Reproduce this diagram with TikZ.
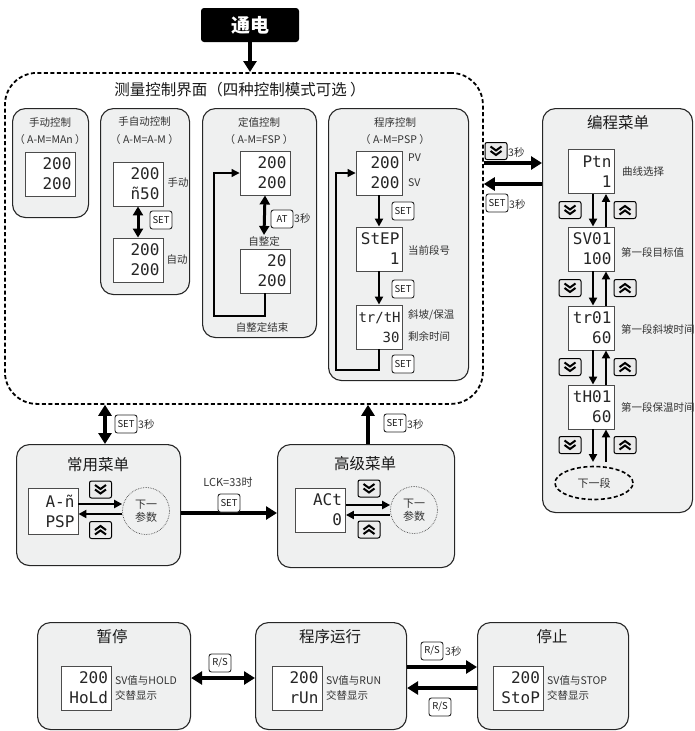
\documentclass[tikz,border=0pt]{standalone}
\usepackage{fontspec}
\setmainfont{Noto Sans CJK SC}
\newfontfamily\segfont{DejaVu Sans Mono}
\usetikzlibrary{arrows.meta,shapes.geometric}
\definecolor{panelgray}{HTML}{EFF0F0}
\definecolor{txt}{HTML}{333333}
\tikzset{
  panel/.style={draw=black!85, fill=panelgray, rounded corners=13pt, line width=1.1pt, inner sep=0pt, anchor=north west},
  sz/.style 2 args={minimum width=#1, minimum height=#2},
  disp/.style={draw=black!70, fill=white, line width=0.9pt, text width=43pt, inner xsep=3.5pt, inner ysep=0pt, minimum height=44pt, align=right, text=black!85, font=\segfont\fontsize{16}{20}\selectfont},
  ndisp/.style={disp, text width=41pt, inner xsep=2.5pt},
  btn/.style={draw=black!85, fill=white, rounded corners=2.5pt, line width=0.9pt, font=\fontsize{9.5}{9.5}\selectfont, inner xsep=2pt, inner ysep=0pt, minimum height=18pt, minimum width=22pt, text=black!90},
  cbtn/.style={draw=black, fill=black!8, rounded corners=2pt, line width=1pt, minimum width=22pt, minimum height=17pt, inner sep=0pt},
  chev/.style={line width=2pt, line join=miter},
  bigarr/.style={line width=4pt, -{Triangle[length=11pt,width=13pt]}},
  bigdbl/.style={line width=4pt, {Triangle[length=11pt,width=13pt]}-{Triangle[length=11pt,width=13pt]}},
  midarr/.style={line width=2pt, -{Triangle[length=8pt,width=8pt]}},
  middbl/.style={line width=3pt, {Triangle[length=9pt,width=10pt]}-{Triangle[length=9pt,width=10pt]}},
  loopl/.style={line width=1.2pt, -{Triangle[length=8pt,width=8pt]}},
  lbl/.style={font=\fontsize{10.5}{15.5}\selectfont, text=txt, inner sep=1pt},
  ttl/.style={font=\fontsize{15.5}{18}\selectfont, text=black!90},
  sttl/.style={font=\fontsize{10.5}{12}\selectfont, text=txt},
  dcircle/.style={circle, draw=black!70, densely dotted, line width=0.7pt, minimum size=47pt, inner sep=0pt, align=center, font=\fontsize{11}{13.5}\selectfont, text=txt},
}
\newcommand\chevbtn[4]{%
  \node[cbtn] (#1) at (#2,#3) {};
  \draw[chev] ([shift={(-5.5,{-4.5*#4})}]#1.center) -- ([shift={(0,{-0.5*#4})}]#1.center) -- ([shift={(5.5,{-4.5*#4})}]#1.center);
  \draw[chev] ([shift={(-5.5,0)}]#1.center) -- ([shift={(0,{4*#4})}]#1.center) -- ([shift={(5.5,0)}]#1.center);
}
\begin{document}
\begin{tikzpicture}[x=1pt,y=-1pt]
\useasboundingbox (0,0) rectangle (694,731);

% power on
\node[fill=black, rounded corners=3pt, text=white, font=\bfseries\fontsize{19}{20}\selectfont, minimum width=98pt, minimum height=34pt, inner sep=0pt] (power) at (250,25) {通电};

% measurement area
\node[draw=black, dash pattern=on 4pt off 2.5pt, rounded corners=32pt, line width=1.8pt, minimum width=478pt, minimum height=331pt, anchor=north west, inner sep=0pt] (meas) at (4,72) {};
\draw[bigarr] (power.south) -- (power.south |- meas.north);
\node[ttl] (mtitle) at (240,90) {测量控制界面（四种控制模式可选 ）};

% panel 1
\node[panel, sz={76pt}{109pt}] (p1) at (12,108) {};
\node[sttl] (p1t) at (50,122) {手动控制};
\node[sttl] (p1m) at (50,140) {（ A-M=MAn ）};
\node[disp] (d1) at (50,174) {200\\200};

% panel 2
\node[panel, sz={89pt}{186pt}] (p2) at (100,108) {};
\node[sttl] (p2t) at (144.5,122) {手自动控制};
\node[sttl] (p2m) at (144.5,140) {（ A-M=A-M ）};
\node[disp] (d2a) at (138,184) {200\\ñ50};
\node[lbl] (l2a) at (178,183) {手动};
\node[disp] (d2b) at (138,260) {200\\200};
\node[lbl] (l2b) at (177,260) {自动};
\draw[middbl] (d2a.south) -- (d2b.north);
\node[btn] (s2) at (161,220) {SET};

% panel 3
\node[panel, sz={114pt}{229pt}] (p3) at (202,108) {};
\node[sttl] (p3t) at (259,122) {定值控制};
\node[sttl] (p3m) at (259,140) {（ A-M=FSP ）};
\node[disp] (d3a) at (265,173) {200\\200};
\node[lbl] (zzd) at (264,241) {自整定};
\node[disp] (d3b) at (265,271) {20\\200};
\draw[middbl] (d3a.south) -- (zzd.north);
\node[btn] (at3) at (282,219) {AT};
\node[lbl, anchor=west] (at3s) at (293,218) {3秒};
\coordinate (l3) at (214,316);
\draw[loopl] (d3b.south) |- (l3) |- (d3a.west);
\node[lbl] (zzde) at (262,327) {自整定结束};

% panel 4
\node[panel, sz={140pt}{272pt}] (p4) at (328,108) {};
\node[sttl] (p4t) at (395,122) {程序控制};
\node[sttl] (p4m) at (395,140) {（ A-M=PSP ）};
\node[ndisp] (d4a) at (379,173) {200\\200};
\node[lbl, anchor=west] (pv) at (407,158) {PV};
\node[lbl, anchor=west] (sv) at (407,183) {SV};
\node[ndisp] (d4b) at (379,249) {StEP\\1};
\node[lbl, anchor=west] (l4b) at (407,250) {当前段号};
\node[ndisp, font=\segfont\fontsize{14}{20}\selectfont] (d4c) at (379,327) {tr/tH\\30};
\node[lbl, anchor=west] (l4c) at (407,315) {斜坡/保温};
\node[lbl, anchor=west] (l4d) at (407,336) {剩余时间};
\draw[midarr] (d4a.south) -- (d4b.north);
\draw[midarr] (d4b.south) -- (d4c.north);
\node[btn] (s4a) at (403,211) {SET};
\node[btn] (s4b) at (403,289) {SET};
\node[btn] (s4c) at (403,364) {SET};
\coordinate (l4) at (336,370);
\draw[loopl] (d4c.south) |- (l4) |- (d4a.west);

% programming menu
\node[panel, sz={150pt}{404pt}] (p5) at (542,108) {};
\node[ttl] (p5t) at (618,123) {编程菜单};
\coordinate (r1) at (0,163);
\coordinate (r2) at (0,184);
\draw[bigarr] (meas.east |- r1) -- (p5.west |- r1);
\draw[bigarr] (p5.west |- r2) -- (meas.east |- r2);
\chevbtn{kd0}{496}{151}{1}
\node[lbl, anchor=west] (kd0s) at (507,152) {3秒};
\node[btn] (s50) at (497,203) {SET};
\node[lbl, anchor=west] (s50s) at (508,204) {3秒};

\node[ndisp] (e1) at (591,171.5) {Ptn\\1};
\node[lbl, anchor=west] (le1) at (621,172) {曲线选择};
\node[ndisp] (e2) at (591,249) {SV01\\100};
\node[lbl, anchor=west] (le2) at (620,252) {第一段目标值};
\node[ndisp] (e3) at (591,328) {tr01\\60};
\node[lbl, anchor=west] (le3) at (620,329) {第一段斜坡时间};
\node[ndisp] (e4) at (591,407) {tH01\\60};
\node[lbl, anchor=west] (le4) at (620,407) {第一段保温时间};
\node[ellipse, draw=black, dash pattern=on 4pt off 2.5pt, line width=1.6pt, minimum width=78pt, minimum height=33pt, inner sep=0pt, font=\fontsize{11}{12}\selectfont, text=txt] (nx) at (594,483) {下一段};
\coordinate (cd) at (593,0);
\coordinate (cu) at (606,0);
\coordinate (nxt) at (0,462);
\draw[midarr] (cd |- e1.south) -- (cd |- e2.north);
\draw[midarr] (cu |- e2.north) -- (cu |- e1.south);
\draw[midarr] (cd |- e2.south) -- (cd |- e3.north);
\draw[midarr] (cu |- e3.north) -- (cu |- e2.south);
\draw[midarr] (cd |- e3.south) -- (cd |- e4.north);
\draw[midarr] (cu |- e4.north) -- (cu |- e3.south);
\draw[midarr] (cd |- e4.south) -- (cd |- nxt);
\draw[midarr] (cu |- nxt) -- (cu |- e4.south);
\chevbtn{k1d}{570}{210}{1}
\chevbtn{k1u}{625}{210}{-1}
\chevbtn{k2d}{570}{288}{1}
\chevbtn{k2u}{625}{288}{-1}
\chevbtn{k3d}{570}{367}{1}
\chevbtn{k3u}{625}{367}{-1}
\chevbtn{k4d}{570}{445}{1}
\chevbtn{k4u}{625}{445}{-1}

% common menu
\node[panel, sz={164pt}{121pt}] (q1) at (16,444) {};
\node[ttl] (q1t) at (98,465) {常用菜单};
\node[disp, minimum height=46pt] (dq1) at (53,511) {A-ñ\\PSP};
\chevbtn{q1d}{100.5}{489.5}{1}
\chevbtn{q1u}{100.5}{530}{-1}
\node[dcircle] (c1) at (146,511) {下一\\参数};
\coordinate (r504) at (0,504);
\coordinate (r514) at (0,514);
\draw[midarr] (dq1.east |- r504) -- (c1.west |- r504);
\draw[midarr] (c1.west |- r514) -- (dq1.east |- r514);
\coordinate (x105) at (105,0);
\draw[bigdbl] (x105 |- meas.south) -- (x105 |- q1.north);
\node[btn] (sq1) at (126,424) {SET};
\node[lbl, anchor=west] (sq1s) at (137,424) {3秒};

% advanced menu
\node[panel, sz={177pt}{123pt}] (q2) at (277,444) {};
\node[ttl] (q2t) at (365,464) {高级菜单};
\node[disp] (dq2) at (320.5,510) {ACt\\0};
\chevbtn{q2d}{369}{488.5}{1}
\chevbtn{q2u}{369}{529.5}{-1}
\node[dcircle] (c2) at (414,510) {下一\\参数};
\coordinate (r505) at (0,505);
\coordinate (r515) at (0,515);
\draw[midarr] (dq2.east |- r505) -- (c2.west |- r505);
\draw[midarr] (c2.west |- r515) -- (dq2.east |- r515);
\coordinate (x368) at (368,0);
\draw[bigarr] (x368 |- q2.north) -- (x368 |- meas.south);
\node[btn] (sq2) at (395,423) {SET};
\node[lbl, anchor=west] (sq2s) at (406,424) {3秒};

\coordinate (r513) at (0,513);
\draw[bigarr] (q1.east |- r513) -- (q2.west |- r513);
\node[lbl, font=\fontsize{11}{12}\selectfont] (lck) at (228,482) {LCK=33时};
\node[btn] (slck) at (229,503) {SET};

% bottom row
\node[panel, sz={153pt}{107pt}] (b1) at (37,622) {};
\node[ttl] (b1t) at (112,637) {暂停};
\node[disp] (db1) at (86.5,688) {200\\HoLd};
\node[lbl, anchor=west, align=left] (lb1) at (114,688) {SV值与HOLD\\交替显示};

\node[panel, sz={151pt}{107pt}] (b2) at (255,622) {};
\node[ttl] (b2t) at (330,637) {程序运行};
\node[disp] (db2) at (297,688) {200\\rUn};
\node[lbl, anchor=west, align=left] (lb2) at (325,688) {SV值与RUN\\交替显示};

\node[panel, sz={151pt}{107pt}] (b3) at (477,622) {};
\node[ttl] (b3t) at (552,637) {停止};
\node[disp] (db3) at (518.5,688) {200\\StoP};
\node[lbl, anchor=west, align=left] (lb3) at (546,688) {SV值与STOP\\交替显示};

\coordinate (r678) at (0,678);
\draw[bigdbl] (b1.east |- r678) -- (b2.west |- r678);
\node[btn] (rs1) at (220,663) {R/S};
\coordinate (r667) at (0,667);
\coordinate (r688) at (0,688);
\draw[bigarr] (b2.east |- r667) -- (b3.west |- r667);
\draw[bigarr] (b3.west |- r688) -- (b2.east |- r688);
\node[btn] (rs2) at (432,651) {R/S};
\node[lbl, anchor=west] (rs2s) at (444,651) {3秒};
\node[btn] (rs3) at (440,707) {R/S};
\end{tikzpicture}
\end{document}
